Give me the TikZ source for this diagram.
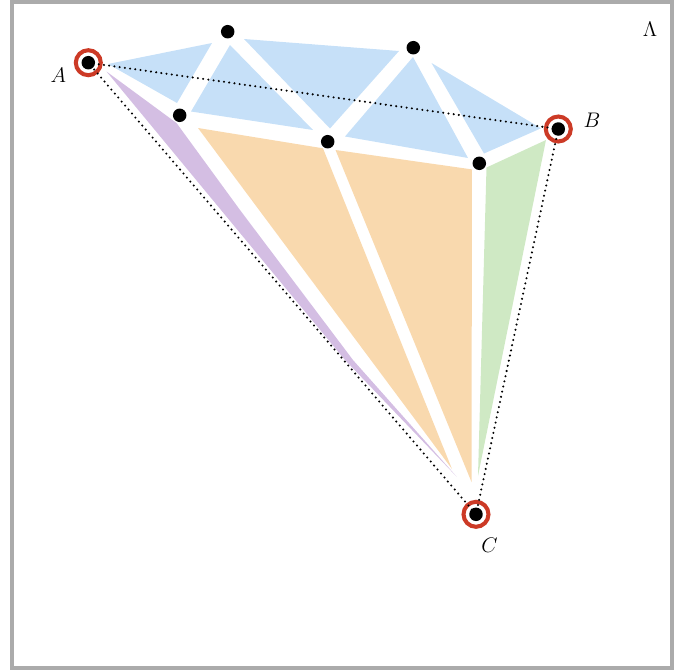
\documentclass[tikz,border=0pt]{standalone}
\definecolor{meshblue}{RGB}{198,224,248}
\definecolor{meshorange}{RGB}{249,217,174}
\definecolor{meshpurple}{RGB}{212,190,227}
\definecolor{meshgreen}{RGB}{207,233,196}
\definecolor{ringred}{RGB}{204,58,38}
\tikzset{
  dotline/.style={line width=1.3pt,dash pattern=on 0pt off 3pt,line cap=round},
  ring/.style={draw=ringred,line width=2.3pt,fill=white},
  lbl/.style={font=\fontsize{12.5}{15}\selectfont}
}
\begin{document}
\begin{tikzpicture}[x=0.02cm,y=-0.02cm]
	\useasboundingbox (0,0) rectangle (691,670);
	\draw[line width=2pt,black!33] (12,2) rectangle (672,668);
	% vertices
	\coordinate (A) at (88.3,62.7);
	\coordinate (B) at (558.3,129);
	\coordinate (C) at (476,514.3);
	\coordinate (P1) at (227.7,31.7);
	\coordinate (P2) at (413.3,47.7);
	\coordinate (Q1) at (179.7,115.3);
	\coordinate (Q2) at (327.7,141.7);
	\coordinate (Q3) at (479.3,163.3);
	% faces
	\fill[meshblue] (108,64)--(212,43)--(177,103)--cycle;
	\fill[meshblue] (230,45)--(191,111.5)--(313,130)--cycle;
	\fill[meshblue] (244,39)--(399,51)--(330,128.5)--cycle;
	\fill[meshblue] (413,57)--(345,136.5)--(468,158)--cycle;
	\fill[meshblue] (431.5,63)--(484,153.5)--(541,128.3)--cycle;
	\fill[meshpurple] (106.5,71.5)--(176.5,123)--(240,210)--(353,360)--(456.7,476.7)--(345,360)--cycle;
	\fill[meshorange] (198,128)--(323,148.3)--(452,469)--cycle;
	\fill[meshorange] (335.5,150)--(472,169.4)--(471.5,482)--cycle;
	\fill[meshgreen] (486.5,167.5)--(546,140)--(478,476)--cycle;
	% marked vertices
	\foreach \v in {A,B,C}
		\draw[ring] (\v) circle (0.25cm);
	\draw[dotline] (A)--(B)--(C)--(A);
	\foreach \v in {A,B,C,P1,P2,Q1,Q2,Q3}
		\fill (\v) circle (0.135cm);
	\node[lbl] (labA) at (58.3,75) {$A$};
	\node[lbl] (labB) at (592,120) {$B$};
	\node[lbl] (labC) at (489.5,545) {$C$};
	\node[font=\fontsize{12}{14}\selectfont] (labL) at (650,29) {$\Lambda$};
\end{tikzpicture}
\end{document}
